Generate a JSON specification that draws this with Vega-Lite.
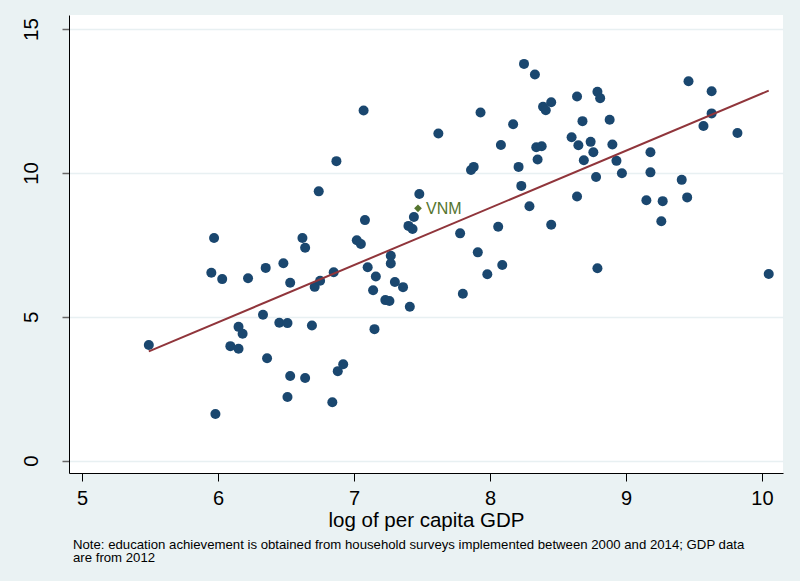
{
  "$schema": "https://vega.github.io/schema/vega-lite/v6.json",
  "width": 714,
  "height": 458,
  "autosize": {"type": "none"},
  "padding": {"left": 69, "top": 15, "right": 17, "bottom": 108},
  "background": "#EAF2F3",
  "config": {
    "view": {"fill": "white", "stroke": null},
    "font": "Liberation Sans",
    "axis": {"labelFont": "Liberation Sans", "titleFont": "Liberation Sans", "labelColor": "#000", "titleColor": "#000"}
  },
  "title": {
    "text": ["Note: education achievement is obtained from household surveys implemented between 2000 and 2014; GDP data", "are from 2012"],
    "orient": "bottom",
    "anchor": "start",
    "frame": "group",
    "font": "Liberation Sans",
    "fontSize": 13.2,
    "fontWeight": "normal",
    "color": "#000",
    "dx": 4,
    "offset": 8,
    "lineHeight": 13.5
  },
  "data": {
    "values": [
      {"gdp": 5.49, "edu": 4.02, "country": "other"},
      {"gdp": 5.97, "edu": 7.74, "country": "other"},
      {"gdp": 5.95, "edu": 6.53, "country": "other"},
      {"gdp": 6.03, "edu": 6.31, "country": "other"},
      {"gdp": 6.22, "edu": 6.34, "country": "other"},
      {"gdp": 6.35, "edu": 6.70, "country": "other"},
      {"gdp": 6.48, "edu": 6.86, "country": "other"},
      {"gdp": 6.53, "edu": 6.18, "country": "other"},
      {"gdp": 6.62, "edu": 7.74, "country": "other"},
      {"gdp": 6.64, "edu": 7.40, "country": "other"},
      {"gdp": 6.71, "edu": 6.04, "country": "other"},
      {"gdp": 6.75, "edu": 6.25, "country": "other"},
      {"gdp": 6.74, "edu": 9.36, "country": "other"},
      {"gdp": 6.87, "edu": 10.41, "country": "other"},
      {"gdp": 6.85, "edu": 6.55, "country": "other"},
      {"gdp": 7.07, "edu": 12.17, "country": "other"},
      {"gdp": 7.08, "edu": 8.36, "country": "other"},
      {"gdp": 7.02, "edu": 7.66, "country": "other"},
      {"gdp": 7.05, "edu": 7.53, "country": "other"},
      {"gdp": 7.10, "edu": 6.72, "country": "other"},
      {"gdp": 7.16, "edu": 6.40, "country": "other"},
      {"gdp": 7.14, "edu": 5.92, "country": "other"},
      {"gdp": 7.27, "edu": 7.12, "country": "other"},
      {"gdp": 7.27, "edu": 6.85, "country": "other"},
      {"gdp": 7.30, "edu": 6.21, "country": "other"},
      {"gdp": 7.23, "edu": 5.58, "country": "other"},
      {"gdp": 7.26, "edu": 5.55, "country": "other"},
      {"gdp": 7.15, "edu": 4.57, "country": "other"},
      {"gdp": 6.33, "edu": 5.07, "country": "other"},
      {"gdp": 6.45, "edu": 4.79, "country": "other"},
      {"gdp": 6.51, "edu": 4.78, "country": "other"},
      {"gdp": 6.69, "edu": 4.70, "country": "other"},
      {"gdp": 6.15, "edu": 4.65, "country": "other"},
      {"gdp": 6.18, "edu": 4.41, "country": "other"},
      {"gdp": 6.09, "edu": 3.98, "country": "other"},
      {"gdp": 6.15, "edu": 3.89, "country": "other"},
      {"gdp": 6.36, "edu": 3.56, "country": "other"},
      {"gdp": 6.53, "edu": 2.94, "country": "other"},
      {"gdp": 6.64, "edu": 2.87, "country": "other"},
      {"gdp": 6.88, "edu": 3.11, "country": "other"},
      {"gdp": 6.92, "edu": 3.35, "country": "other"},
      {"gdp": 6.51, "edu": 2.21, "country": "other"},
      {"gdp": 6.84, "edu": 2.03, "country": "other"},
      {"gdp": 5.98, "edu": 1.62, "country": "other"},
      {"gdp": 8.25, "edu": 13.79, "country": "other"},
      {"gdp": 8.33, "edu": 13.42, "country": "other"},
      {"gdp": 9.46, "edu": 13.19, "country": "other"},
      {"gdp": 9.63, "edu": 12.84, "country": "other"},
      {"gdp": 8.79, "edu": 12.82, "country": "other"},
      {"gdp": 8.81, "edu": 12.60, "country": "other"},
      {"gdp": 8.64, "edu": 12.66, "country": "other"},
      {"gdp": 8.45, "edu": 12.46, "country": "other"},
      {"gdp": 8.39, "edu": 12.30, "country": "other"},
      {"gdp": 8.41, "edu": 12.18, "country": "other"},
      {"gdp": 7.93, "edu": 12.10, "country": "other"},
      {"gdp": 9.63, "edu": 12.07, "country": "other"},
      {"gdp": 8.17, "edu": 11.69, "country": "other"},
      {"gdp": 8.68, "edu": 11.80, "country": "other"},
      {"gdp": 8.88, "edu": 11.85, "country": "other"},
      {"gdp": 9.57, "edu": 11.63, "country": "other"},
      {"gdp": 7.62, "edu": 11.37, "country": "other"},
      {"gdp": 9.82, "edu": 11.39, "country": "other"},
      {"gdp": 8.60, "edu": 11.24, "country": "other"},
      {"gdp": 8.74, "edu": 11.08, "country": "other"},
      {"gdp": 8.08, "edu": 10.97, "country": "other"},
      {"gdp": 8.34, "edu": 10.89, "country": "other"},
      {"gdp": 8.38, "edu": 10.93, "country": "other"},
      {"gdp": 8.65, "edu": 10.96, "country": "other"},
      {"gdp": 8.90, "edu": 10.99, "country": "other"},
      {"gdp": 9.18, "edu": 10.72, "country": "other"},
      {"gdp": 8.76, "edu": 10.72, "country": "other"},
      {"gdp": 8.35, "edu": 10.47, "country": "other"},
      {"gdp": 8.69, "edu": 10.44, "country": "other"},
      {"gdp": 8.93, "edu": 10.42, "country": "other"},
      {"gdp": 7.86, "edu": 10.10, "country": "other"},
      {"gdp": 7.88, "edu": 10.21, "country": "other"},
      {"gdp": 8.21, "edu": 10.21, "country": "other"},
      {"gdp": 8.97, "edu": 9.99, "country": "other"},
      {"gdp": 9.18, "edu": 10.02, "country": "other"},
      {"gdp": 8.78, "edu": 9.86, "country": "other"},
      {"gdp": 9.41, "edu": 9.76, "country": "other"},
      {"gdp": 8.23, "edu": 9.55, "country": "other"},
      {"gdp": 7.48, "edu": 9.27, "country": "other"},
      {"gdp": 8.64, "edu": 9.18, "country": "other"},
      {"gdp": 9.45, "edu": 9.15, "country": "other"},
      {"gdp": 9.15, "edu": 9.05, "country": "other"},
      {"gdp": 9.27, "edu": 9.02, "country": "other"},
      {"gdp": 8.29, "edu": 8.84, "country": "other"},
      {"gdp": 7.44, "edu": 8.47, "country": "other"},
      {"gdp": 7.40, "edu": 8.16, "country": "other"},
      {"gdp": 7.43, "edu": 8.05, "country": "other"},
      {"gdp": 9.26, "edu": 8.32, "country": "other"},
      {"gdp": 8.45, "edu": 8.20, "country": "other"},
      {"gdp": 8.06, "edu": 8.13, "country": "other"},
      {"gdp": 7.78, "edu": 7.90, "country": "other"},
      {"gdp": 7.91, "edu": 7.24, "country": "other"},
      {"gdp": 8.09, "edu": 6.80, "country": "other"},
      {"gdp": 7.98, "edu": 6.48, "country": "other"},
      {"gdp": 8.79, "edu": 6.69, "country": "other"},
      {"gdp": 10.05, "edu": 6.49, "country": "other"},
      {"gdp": 7.36, "edu": 6.03, "country": "other"},
      {"gdp": 7.80, "edu": 5.80, "country": "other"},
      {"gdp": 7.41, "edu": 5.35, "country": "other"},
      {"gdp": 7.47, "edu": 8.77, "country": "VNM"}
    ]
  },
  "encoding": {
    "x": {
      "field": "gdp", "type": "quantitative",
      "scale": {"domain": [4.903, 10.155], "nice": false, "zero": false},
      "axis": {
        "values": [5, 6, 7, 8, 9, 10],
        "grid": false,
        "domainColor": "#000", "domainWidth": 1,
        "tickColor": "#000", "tickSize": 8, "tickWidth": 1,
        "labelFontSize": 20, "labelPadding": 7,
        "title": "log of per capita GDP",
        "titleFontSize": 20.5, "titleFontWeight": "normal",
        "titleY": 53, "titleBaseline": "alphabetic"
      }
    },
    "y": {
      "field": "edu", "type": "quantitative",
      "scale": {"domain": [-0.43, 15.49], "nice": false, "zero": false},
      "axis": {
        "values": [0, 5, 10, 15],
        "grid": true, "gridColor": "#E8F0F2", "gridWidth": 1.5,
        "domainColor": "#000", "domainWidth": 1,
        "tickColor": "#666", "tickSize": 7, "tickWidth": 1.5,
        "labelFontSize": 20.5, "labelAngle": -90, "labelAlign": "center", "labelBaseline": "alphabetic",
        "labelPadding": 25,
        "title": null
      }
    }
  },
  "layer": [
    {
      "transform": [{"filter": "datum.country === 'other'"}],
      "mark": {"type": "circle", "size": 100, "color": "#1A476F", "opacity": 1}
    },
    {
      "transform": [{"regression": "edu", "on": "gdp"}],
      "mark": {"type": "line", "color": "#90353B", "strokeWidth": 2}
    },
    {
      "transform": [{"filter": "datum.country === 'VNM'"}],
      "mark": {"type": "point", "shape": "diamond", "filled": true, "size": 60, "color": "#55752F", "opacity": 1}
    },
    {
      "transform": [{"filter": "datum.country === 'VNM'"}],
      "mark": {"type": "text", "align": "left", "baseline": "middle", "dx": 8, "dy": 1, "fontSize": 16, "font": "Liberation Sans", "color": "#55752F"},
      "encoding": {"text": {"field": "country"}}
    }
  ]
}
